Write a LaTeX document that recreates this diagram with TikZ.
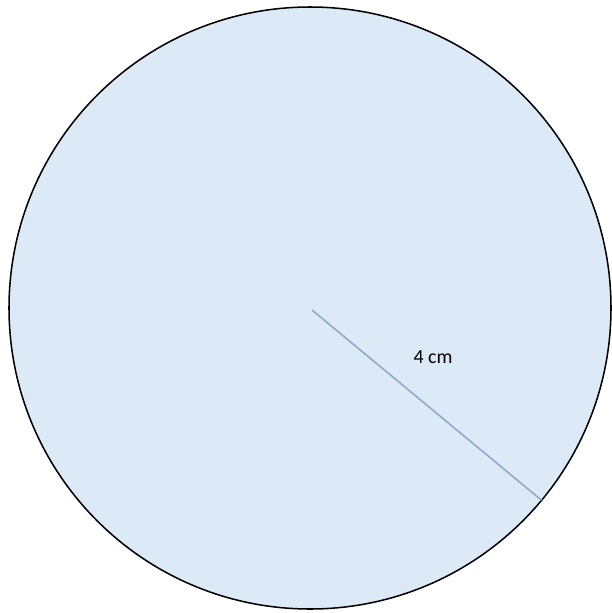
\documentclass[tikz,border=0pt]{standalone}
\usepackage{fontspec}
\setmainfont{Carlito}
\definecolor{discfill}{HTML}{DCE9F7}
\definecolor{radiusline}{HTML}{8EA8C6}
\begin{document}
\begin{tikzpicture}[x=0.03cm,y=-0.03cm]
\useasboundingbox (0,0) rectangle (611,613);
\draw[line width=1.3pt,fill=discfill] (310,308) circle (301);
\coordinate (centre) at (312,310);
\path (310,308) ++(39.7:301) coordinate (rim);
\draw[radiusline,line width=1.3pt] (centre) -- (rim);

\node[font=\fontsize{17}{20}\selectfont] (len) at (433,357) {4 cm};
\end{tikzpicture}
\end{document}
